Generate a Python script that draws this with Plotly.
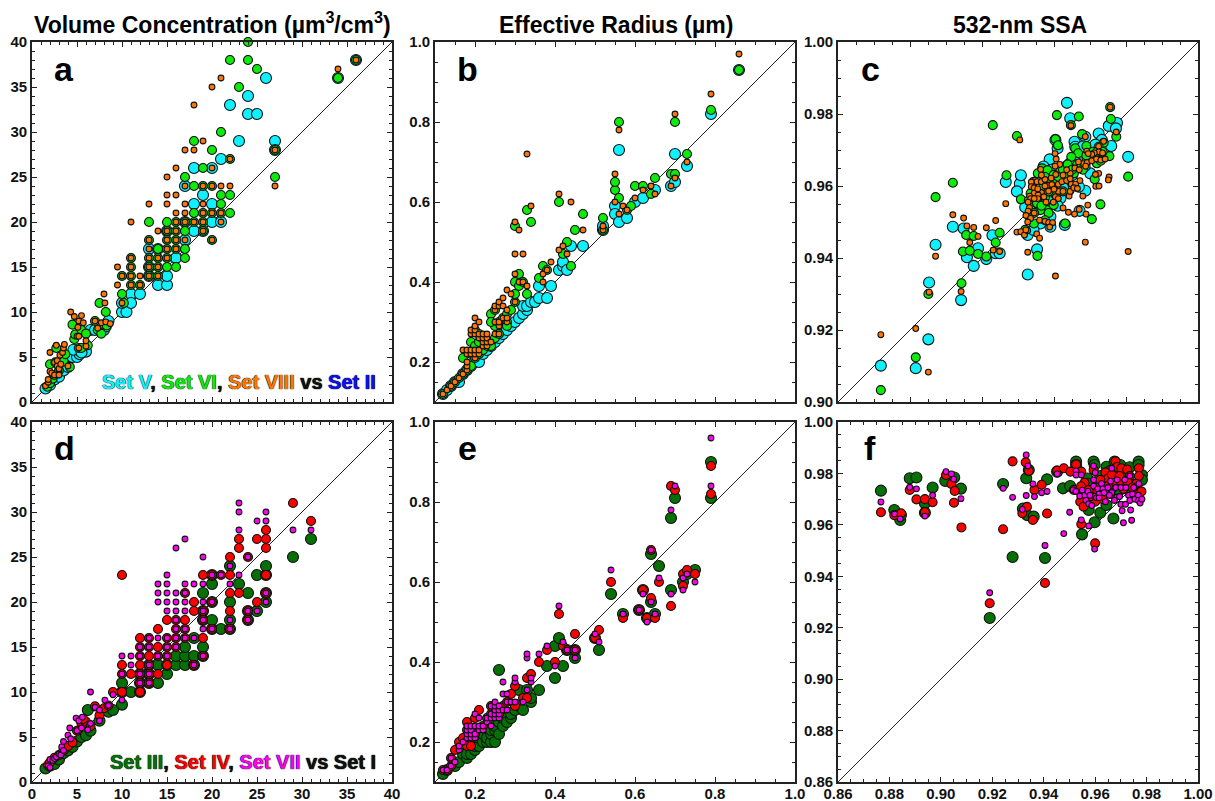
import plotly.graph_objects as go

# ---- panel a (Set II on x) ----
A_V = [(1.5,1.5),(2,1.9),(2.5,2.5),(3,2.8),(3.5,3.5),(4,3.9),(4.5,5),(5,5),(5.3,5.3),(4.6,5.8),(6,5.6),(5.5,5.5),(6.5,8),(7,8),(8,8),(8.2,8.4),(8.5,9),(10,10),(10.5,10),(10,11),(11,12),(11,11),(12,12),(14,13),(15,13),(15,14),(13,14),(13,15),(13,17),(14,17),(16,16),(17,18),(15,19),(19,19),(18,19),(17,20),(20,20),(21,20),(18,22),(20,22),(17,24),(19,23),(18,26),(20,26),(21,27),(22,33),(23,29),(24,32),(25,32),(24,34),(26,36),(27,29),(27,28),(34,36),(36,38)]
A_VI = [(1.7,1.7),(2,2.1),(2.3,2.6),(2.5,3),(3,3.5),(2,4.2),(2.6,4.4),(3.5,4.5),(3.7,5.3),(4.2,3.9),(2.7,6),(4.5,8.6),(4.7,7),(4.8,7.5),(5.2,6),(5.5,8),(5.5,6),(6,7.6),(6.2,6.3),(7,9),(7.3,8),(7.7,7.6),(8,8.6),(8.3,8.5),(8.2,10),(7.5,11),(10,12),(10,14),(10.2,11),(11,13),(11,14),(11,16),(11,15),(12,13),(13,16),(13,18),(13,20),(13,14),(13,15),(14,14),(14,15),(14,16),(14,17),(15,15),(15,16),(15,17),(15,18),(15,19),(15,20),(16,15),(16,17),(16,18),(16,19),(16,20),(17,16),(17,17),(17,19),(17,20),(17,25),(18,20),(18,21),(18,24),(18,29),(19,19),(19,20),(19,21),(19,24),(19,26),(20,18),(20,21),(20,24),(20,28),(21,21),(21,22),(21,23),(21,30),(22,21),(22,23),(22,27),(22,38),(23,35),(24,38),(24,40),(25,37),(27,25),(27,28),(34,36),(36,38)]
A_VIII = [(1.5,1.8),(1.8,2.2),(1.8,2.5),(2,3.4),(2.2,3.2),(2.5,3),(2.5,4.4),(2.8,4),(2.8,4.6),(3,3.5),(3,3.7),(3.1,5.2),(2,5.5),(2.7,6.3),(3,3),(3.2,4.2),(3.4,5.5),(3.5,6.0),(3.6,6.4),(4,4),(4.3,10),(4.7,9.5),(5,7.3),(5.2,7.3),(5.1,8.3),(5.2,9),(5.5,9.6),(5.7,8.8),(5.2,6),(6,6.2),(6,6.8),(7,9),(7.3,8.2),(7.7,8.8),(8,12),(8.2,8.9),(8.7,8.7),(8.1,11),(9.5,15),(9.5,13),(10,14),(10,11),(12,13),(11,13),(11,14),(11,15),(11,16),(12,14),(11,20),(13,14),(13,15),(13,16),(13,17),(13,18),(13,22),(14,14),(14,15),(14,16),(14,19),(15,16),(15,17),(15,18),(15,19),(15,22),(15,23),(15,25),(16,17),(16,18),(16,19),(16,20),(16,21),(16,23),(16,26),(17,18),(17,20),(17,21),(17,22),(17,24),(17,28),(18,20),(18,28),(18,33),(19,19),(19,20),(19,21),(19,22),(19,24),(19,29),(20,18),(20,21),(20,24),(20,26),(20,35),(21,20),(21,21),(21,24),(21,36),(22,24),(22,27),(27,24),(27,28),(34,37),(36,38)]

# ---- panel b ----
B_V = [(.12,.12),(.13,.13),(.14,.14),(.15,.15),(.16,.15),(.17,.17),(.18,.18),(.19,.19),(.2,.2),(.21,.2),(.22,.22),(.23,.23),(.24,.24),(.25,.25),(.26,.26),(.27,.27),(.28,.28),(.29,.29),(.3,.3),(.31,.31),(.32,.32),(.33,.33),(.32,.34),(.33,.34),(.34,.35),(.35,.35),(.36,.36),(.38,.36),(.36,.39),(.39,.39),(.41,.43),(.42,.44),(.42,.45),(.43,.43),(.44,.49),(.47,.49),(.52,.53),(.52,.54),(.55,.59),(.55,.57),(.56,.55),(.58,.56),(.56,.73),(.6,.6),(.62,.61),(.65,.63),(.69,.64),(.7,.65),(.7,.72),(.73,.69),(.79,.82),(.86,.93)]
B_VI = [(.12,.12),(.14,.14),(.15,.15),(.16,.16),(.17,.17),(.18,.18),(.17,.21),(.19,.19),(.19,.22),(.2,.21),(.19,.25),(.21,.22),(.2,.24),(.22,.23),(.21,.25),(.23,.24),(.22,.26),(.2,.28),(.21,.27),(.24,.25),(.25,.29),(.25,.26),(.24,.24),(.26,.27),(.24,.32),(.25,.33),(.24,.3),(.26,.3),(.27,.31),(.28,.3),(.28,.32),(.28,.29),(.29,.33),(.3,.35),(.3,.37),(.3,.4),(.31,.39),(.31,.42),(.32,.4),(.33,.37),(.33,.58),(.34,.55),(.3,.54),(.36,.41),(.37,.44),(.38,.43),(.42,.47),(.43,.5),(.41,.6),(.44,.44),(.45,.53),(.47,.57),(.52,.56),(.52,.53),(.55,.63),(.55,.65),(.56,.61),(.56,.8),(.58,.58),(.59,.59),(.6,.64),(.62,.64),(.64,.62),(.65,.66),(.69,.67),(.7,.67),(.7,.8),(.73,.72),(.79,.83),(.86,.93)]
B_VIII = [(.12,.12),(.13,.13),(.14,.14),(.15,.15),(.16,.16),(.17,.17),(.18,.18),(.18,.19),(.18,.2),(.17,.23),(.18,.22),(.18,.23),(.19,.22),(.19,.23),(.2,.21),(.2,.22),(.2,.23),(.21,.22),(.21,.23),(.19,.27),(.19,.28),(.2,.27),(.2,.28),(.2,.29),(.2,.31),(.21,.26),(.21,.27),(.21,.3),(.22,.24),(.22,.25),(.22,.26),(.22,.27),(.23,.24),(.23,.25),(.23,.26),(.23,.27),(.24,.25),(.25,.27),(.25,.3),(.25,.33),(.25,.34),(.26,.27),(.26,.29),(.26,.3),(.26,.34),(.26,.35),(.27,.31),(.27,.34),(.27,.36),(.28,.3),(.28,.31),(.28,.33),(.28,.38),(.29,.37),(.3,.35),(.3,.42),(.3,.47),(.31,.4),(.32,.4),(.32,.47),(.33,.39),(.33,.72),(.34,.59),(.31,.53),(.3,.55),(.37,.4),(.37,.42),(.38,.43),(.39,.45),(.41,.48),(.41,.62),(.42,.49),(.43,.47),(.44,.6),(.47,.53),(.52,.53),(.52,.54),(.55,.6),(.55,.67),(.56,.57),(.56,.78),(.57,.59),(.58,.58),(.6,.61),(.62,.63),(.64,.64),(.65,.62),(.69,.64),(.7,.66),(.7,.82),(.73,.7),(.79,.87),(.86,.97)]

# ---- panel c ----
C_V = [(.9119,.9101),(.9216,.9094),(.9251,.9174),(.9253,.9332),(.9271,.9437),(.9319,.9487),(.9349,.9482),(.9342,.9283),(.9358,.9402),(.9377,.9378),(.9389,.9427),(.9412,.9397),(.9438,.9413),(.9449,.9413),(.9429,.9463),(.9466,.9611),(.9505,.9606),(.9508,.963),(.9497,.9585),(.9527,.9354),(.9553,.9424),(.9527,.9464),(.952,.9541),(.9636,.9831),(.9645,.9788),(.9604,.9728),(.961,.9705),(.9588,.9674),(.9571,.9654),(.9657,.9723),(.9659,.9709),(.9687,.9737),(.9724,.9746),(.9733,.9728),(.9759,.9711),(.9752,.9767),(.9775,.9775),(.9772,.976),(.9806,.9681),(.963,.9492),(.9671,.9531),(.9687,.9587),(.9669,.9598),(.9641,.9589),(.9618,.9566),(.959,.9515),(.959,.9487),(.9562,.9496),(.9543,.9478),(.9701,.9635),(.9645,.9663),(.9678,.9663),(.9719,.9681),(.9555,.9552),(.9575,.9615),(.9605,.9625),(.965,.963),(.9685,.9655),(.973,.9695),(.961,.9545),(.9565,.9565),(.959,.9555),(.9625,.9595),(.9655,.9675),(.97,.97),(.968,.971),(.9715,.9715),(.9635,.9655),(.9595,.9645)]
C_VI = [(.9119,.9033),(.9216,.9124),(.9251,.93),(.9343,.933),(.9271,.9569),(.9319,.9609),(.9356,.9464),(.9377,.9461),(.9347,.9418),(.9366,.942),(.9389,.9411),(.9412,.9404),(.9438,.9443),(.9449,.947),(.943,.9769),(.9468,.963),(.9497,.9739),(.9508,.9563),(.953,.956),(.9554,.9406),(.9608,.9797),(.9669,.9793),(.9647,.9769),(.9756,.9819),(.9758,.9786),(.9773,.9737),(.9806,.9626),(.9754,.9683),(.9729,.9549),(.9705,.9508),(.9713,.9619),(.9631,.9496),(.9604,.973),(.9611,.9713),(.9678,.9744),(.969,.9711),(.9659,.9705),(.9667,.9691),(.9738,.972),(.9724,.9709),(.9719,.9663),(.9701,.9677),(.9648,.9681),(.9567,.9649),(.9582,.9644),(.9618,.9643),(.9599,.9631),(.9636,.9631),(.9544,.9612),(.9571,.9598),(.9605,.9575),(.9581,.9533),(.9562,.9533),(.9553,.9552),(.9599,.9547),(.9544,.9496),(.952,.9478),(.9625,.9585),(.9655,.9635),(.969,.9668),(.9575,.9568),(.9535,.958),(.9555,.9635),(.9575,.9625),(.9592,.9612),(.9612,.9625),(.9625,.9645),(.9638,.966),(.965,.9645),(.9665,.966),(.968,.9645),(.969,.9685),(.9708,.9695),(.972,.9695),(.9735,.9695),(.973,.967),(.9585,.9585),(.9565,.9545),(.9545,.9525),(.9562,.9575),(.9585,.9525),(.96,.9605),(.9575,.9505)]
C_VIII = [(.9119,.9187),(.9216,.9204),(.9251,.9083),(.9253,.9305),(.9271,.9405),(.9319,.952),(.9349,.9511),(.9342,.9307),(.9358,.9489),(.9366,.9443),(.9377,.9485),(.9389,.946),(.9412,.9484),(.9438,.9504),(.9431,.9422),(.9449,.9418),(.9466,.9551),(.9497,.9472),(.9508,.9473),(.9505,.9728),(.9518,.9464),(.9527,.9476),(.9527,.9416),(.9552,.9467),(.956,.9455),(.9604,.935),(.9687,.9444),(.9806,.9418),(.9647,.9768),(.9756,.9819),(.9773,.975),(.9687,.9737),(.9738,.9724),(.9724,.971),(.9603,.969),(.9606,.9675),(.9616,.966),(.9691,.9697),(.9725,.9695),(.9753,.9625),(.9751,.9617),(.9716,.9599),(.9725,.96),(.9724,.9635),(.9715,.9632),(.9694,.9547),(.9689,.9522),(.967,.9535),(.9657,.9522),(.9625,.9539),(.964,.9527),(.968,.9572),(.9603,.9655),(.9563,.9646),(.9547,.9616),(.9537,.9611),(.9537,.9598),(.9545,.9595),(.9553,.9612),(.9565,.9612),(.9575,.9618),(.9583,.9602),(.9594,.9604),(.9612,.9605),(.9622,.9612),(.9635,.9615),(.9648,.9605),(.966,.9605),(.9672,.9615),(.9645,.9635),(.9635,.9645),(.9658,.965),(.967,.9645),(.9682,.9662),(.9692,.9665),(.9705,.967),(.9718,.9675),(.973,.9672),(.9742,.9675),(.9712,.9692),(.9705,.9688),(.9735,.9692),(.9695,.969),(.9668,.9667),(.9688,.9655),(.9612,.9585),(.96,.9591),(.9585,.9586),(.9565,.9582),(.9545,.958),(.9532,.9572),(.9556,.9575),(.9535,.9565),(.9555,.9565),(.9572,.957),(.9604,.957),(.9612,.9565),(.9528,.9555),(.9545,.9565),(.9578,.9555),(.9598,.9555),(.9532,.954),(.9545,.9525),(.9528,.953),(.9522,.9518),(.9535,.951),(.956,.9505),(.9575,.9502),(.9585,.9498),(.9596,.9498),(.9588,.9486),(.9527,.95),(.9522,.9478),(.9625,.9585),(.9642,.9572),(.9645,.9585),(.9655,.9595),(.9665,.9593),(.9575,.96),(.9555,.9592),(.9592,.9622),(.9605,.9632),(.9625,.963),(.9645,.962),(.9565,.963)]

# ---- panel d (Set I on x) ----
D_III = [(1.5,1.5),(2,1.8),(2.5,2),(3,2.5),(3.5,3.2),(4,3.5),(4.5,3.9),(5,4.5),(5.5,5),(6,5.2),(6.5,5.7),(6.2,8),(7.5,6.8),(8.5,7.8),(9,8),(10,8.6),(10,10),(10,11),(11,10),(12,10),(12,11),(12,12),(13,11),(13,12),(13,13),(14,11),(14,13),(15,12),(15,13),(16,13),(16,14),(17,13),(17,14),(17,15),(18,13),(18,14),(18,16),(19,14),(19,15),(19,18),(19,19),(19,21),(20,17),(20,18),(20,20),(20,22),(20,23),(21,17),(22,17),(22,18),(22,20),(22,24),(23,22),(24,18),(24,19),(24,21),(25,19),(25,23),(26,20),(26,21),(26,23),(26,24),(29,25),(31,27)]
D_IV = [(1.8,1.9),(2,2.2),(2.5,2.7),(3,3),(3.5,3.5),(4,4),(4.5,4.4),(5,5.7),(5.5,6.5),(6,6.7),(6.5,6.2),(5.7,7),(7,8.4),(7.5,7.4),(8,8.2),(8.5,8.5),(9,10),(10,13),(10,12),(10,10),(10,23),(11,12),(12,10),(12,11),(12,12),(12,13),(12,14),(12,15),(12,16),(13,11),(13,12),(13,13),(13,14),(13,15),(13,16),(14,12),(14,14),(14,15),(14,17),(15,13),(15,14),(15,15),(15,16),(15,18),(16,15),(16,16),(16,17),(16,18),(17,16),(17,17),(17,18),(17,21),(18,13),(18,19),(18,20),(19,14),(19,16),(19,18),(19,19),(19,23),(20,17),(20,20),(20,23),(21,23),(22,17),(22,19),(22,21),(22,23),(22,25),(23,21),(23,26),(23,27),(24,18),(24,19),(24,25),(25,20),(25,27),(26,21),(26,23),(26,26),(26,27),(26,28),(29,31),(31,29)]
D_VII = [(1.8,1.8),(2,2.5),(2,1.6),(2.3,2.4),(2.5,2.6),(2.7,2.8),(3,3.1),(3.2,3),(3.3,3.9),(3.5,4.5),(3.5,3.5),(4,5.2),(4.2,6),(4.3,4.8),(4.9,7.1),(5,5.7),(5.2,6.8),(5.5,6),(5.6,7.2),(6.2,5.8),(6.5,10),(6.5,6.5),(7,8.3),(7.5,8),(7.5,6.8),(8.1,9.1),(8.5,8.5),(9,9.7),(10,9.1),(10,12),(10,14),(11,13),(11,14),(12,11),(12,12),(12,14),(12,15),(13,11),(13,12),(13,13),(13,15),(13,16),(14,14),(14,16),(14,20),(14,21),(14,22),(15,14),(15,15),(15,16),(15,19),(15,20),(15,21),(15,22),(15,23),(16,15),(16,16),(16,17),(16,18),(16,19),(16,20),(16,21),(16,26),(17,16),(17,17),(17,19),(17,20),(17,21),(17,22),(17,27),(18,13),(18,16),(18,22),(19,14),(19,17),(19,18),(19,19),(19,20),(19,22),(19,25),(20,17),(20,20),(20,23),(21,23),(22,17),(22,18),(22,22),(22,24),(23,23),(23,28),(23,30),(23,31),(24,18),(24,19),(24,25),(25,19),(25,29),(26,20),(26,21),(26,29),(26,30),(29,28),(31,28)]

# ---- panel e ----
E_III = [(.12,.12),(.13,.13),(.15,.14),(.16,.15),(.17,.17),(.18,.16),(.18,.17),(.19,.17),(.2,.18),(.2,.19),(.21,.19),(.21,.21),(.22,.2),(.22,.22),(.23,.2),(.23,.21),(.24,.2),(.24,.22),(.25,.2),(.24,.23),(.25,.23),(.25,.24),(.26,.22),(.26,.25),(.27,.24),(.27,.26),(.28,.26),(.28,.25),(.29,.26),(.29,.27),(.3,.28),(.31,.29),(.32,.28),(.31,.33),(.34,.3),(.34,.31),(.26,.38),(.33,.33),(.36,.33),(.38,.39),(.4,.36),(.4,.44),(.42,.39),(.41,.46),(.45,.41),(.43,.43),(.45,.43),(.5,.46),(.51,.43),(.54,.57),(.57,.52),(.61,.53),(.62,.58),(.63,.51),(.64,.55),(.64,.67),(.65,.52),(.66,.64),(.69,.58),(.69,.76),(.7,.81),(.72,.6),(.73,.62),(.75,.63),(.79,.81),(.79,.9)]
E_IV = [(.12,.13),(.13,.13),(.14,.14),(.14,.16),(.15,.18),(.16,.2),(.17,.21),(.18,.19),(.18,.23),(.18,.25),(.19,.19),(.2,.22),(.2,.26),(.21,.28),(.22,.24),(.23,.26),(.24,.27),(.24,.29),(.25,.29),(.26,.27),(.27,.29),(.28,.3),(.29,.32),(.3,.29),(.3,.34),(.32,.31),(.33,.31),(.33,.36),(.34,.37),(.36,.4),(.38,.43),(.4,.4),(.41,.52),(.42,.44),(.43,.43),(.45,.43),(.45,.47),(.5,.46),(.51,.48),(.54,.6),(.57,.51),(.61,.53),(.62,.58),(.63,.51),(.64,.56),(.64,.68),(.65,.51),(.66,.6),(.69,.54),(.69,.84),(.7,.83),(.72,.62),(.72,.59),(.73,.63),(.75,.62),(.79,.82),(.79,.89)]
E_VII = [(.12,.13),(.13,.13),(.14,.14),(.14,.16),(.15,.15),(.16,.18),(.16,.19),(.17,.2),(.18,.21),(.18,.22),(.18,.23),(.18,.24),(.19,.21),(.19,.22),(.19,.23),(.19,.24),(.2,.21),(.2,.22),(.2,.24),(.2,.27),(.21,.23),(.21,.24),(.21,.26),(.22,.23),(.22,.24),(.23,.25),(.23,.26),(.24,.24),(.24,.26),(.24,.27),(.24,.29),(.25,.26),(.25,.27),(.25,.28),(.25,.29),(.25,.3),(.26,.26),(.26,.27),(.26,.28),(.26,.29),(.27,.28),(.27,.32),(.27,.35),(.28,.28),(.28,.3),(.28,.32),(.29,.3),(.3,.3),(.3,.35),(.3,.36),(.32,.3),(.33,.33),(.33,.41),(.33,.42),(.34,.35),(.34,.36),(.36,.42),(.38,.44),(.4,.39),(.41,.54),(.42,.45),(.43,.43),(.45,.41),(.45,.43),(.5,.47),(.51,.45),(.54,.63),(.57,.52),(.61,.53),(.62,.57),(.63,.5),(.64,.55),(.64,.68),(.65,.52),(.66,.61),(.69,.57),(.69,.78),(.7,.84),(.72,.61),(.72,.58),(.73,.62),(.75,.6),(.79,.84),(.79,.96)]

# ---- panel f ----
F_III = [(.8767,.9733),(.8819,.9658),(.8842,.9619),(.8845,.9638),(.8879,.9781),(.8905,.9784),(.8938,.9684),(.8938,.9647),(.8968,.9745),(.9017,.9771),(.9052,.9784),(.9078,.9741),(.919,.9238),(.9242,.9759),(.9279,.9475),(.9319,.9663),(.9332,.9781),(.9342,.9813),(.9335,.9638),(.9361,.9632),(.9405,.9471),(.9413,.9777),(.9452,.9807),(.9475,.9742),(.9503,.9751),(.9526,.9846),(.9526,.9833),(.9549,.9563),(.9575,.9658),(.9598,.961),(.9594,.9846),(.9598,.9833),(.962,.9647),(.9644,.9826),(.9644,.9677),(.9671,.9625),(.9676,.9846),(.9698,.9833),(.9734,.9824),(.9769,.9846),(.9769,.9833),(.9782,.9794),(.9782,.9775),(.957,.978),(.962,.977),(.966,.981),(.971,.98),(.976,.975),(.9735,.976),(.965,.976),(.962,.979),(.957,.976),(.969,.973),(.9725,.974),(.966,.974),(.961,.971),(.956,.972)]
F_IV = [(.8767,.9649),(.8819,.9638),(.8845,.9645),(.8879,.9736),(.8905,.9699),(.8938,.97),(.8938,.9649),(.8968,.9688),(.902,.9794),(.9041,.9759),(.9054,.9732),(.9051,.9686),(.908,.959),(.919,.9295),(.9242,.9583),(.9279,.9847),(.933,.9843),(.9342,.981),(.9335,.967),(.9317,.9645),(.9358,.9619),(.9364,.9736),(.9392,.9756),(.9413,.9644),(.9405,.9374),(.9452,.9811),(.9478,.982),(.9504,.9807),(.9517,.9736),(.9526,.9835),(.9546,.9807),(.9546,.9603),(.9542,.969),(.9555,.9671),(.9559,.9764),(.9545,.975),(.96,.9528),(.9594,.9813),(.964,.9804),(.9605,.9735),(.962,.9755),(.965,.978),(.9679,.9847),(.9685,.9825),(.9702,.982),(.9725,.9815),(.9735,.979),(.977,.982),(.977,.979),(.976,.976),(.978,.973),(.975,.972),(.971,.974),(.968,.9755),(.966,.972),(.963,.97),(.96,.969),(.958,.971),(.97,.977),(.965,.975),(.9725,.977),(.962,.9775),(.9665,.9795),(.9695,.979),(.9745,.9745),(.9635,.973),(.9575,.9735)]
F_VII = [(.8767,.9689),(.882,.9642),(.8842,.9623),(.8879,.9746),(.8905,.974),(.8938,.9634),(.8968,.9715),(.902,.9807),(.9041,.9798),(.905,.9778),(.9078,.9702),(.919,.9336),(.9242,.9742),(.9279,.9707),(.9317,.966),(.9332,.9872),(.9339,.9829),(.9332,.9714),(.9358,.9759),(.9364,.971),(.9392,.9725),(.9413,.973),(.9405,.952),(.9452,.9798),(.9478,.9566),(.9501,.9649),(.9514,.9736),(.9526,.981),(.9526,.9794),(.9546,.9794),(.9546,.9619),(.9575,.9596),(.9598,.9506),(.9594,.9829),(.96,.9803),(.9594,.9775),(.9594,.9751),(.9594,.9712),(.9525,.973),(.954,.9712),(.955,.9735),(.956,.9715),(.9565,.9695),(.9572,.973),(.958,.9715),(.9575,.9682),(.9587,.9675),(.961,.974),(.9615,.972),(.9605,.9705),(.9625,.976),(.963,.974),(.964,.969),(.965,.9745),(.966,.977),(.9665,.9725),(.9665,.982),(.968,.9745),(.9685,.9775),(.9685,.9708),(.97,.9745),(.97,.968),(.9705,.9655),(.971,.9608),(.9715,.9775),(.972,.9745),(.9718,.968),(.973,.9715),(.9735,.9695),(.9738,.9658),(.9742,.9618),(.9735,.979),(.9745,.972),(.9755,.97),(.9768,.9715),(.9768,.9695),(.977,.976),(.9775,.9685),(.9782,.97),(.9675,.9695),(.9695,.971),(.9655,.9715),(.9635,.9725),(.9615,.9705),(.975,.9745)]

TITLES = ["Volume Concentration (µm<sup>3</sup>/cm<sup>3</sup>)", "Effective Radius (µm)", "532-nm SSA"]
LETTERS = ["a", "b", "c", "d", "e", "f"]
TOP_COLORS = ["#10F0FF", "#0CEB0C", "#FF7700"]
BOT_COLORS = ["#067006", "#FF0000", "#FF00F0"]
SIZES = [11, 9, 5.8]
RANGES = [(0, 40), (.1, 1.0), (.90, 1.00), (0, 40), (.1, 1.0), (.86, 1.00)]
MAJOR = [5, .2, .02, 5, .2, .02]
MINOR = [1, .05, .005, 1, .05, .005]
FORMATS = ["d", ".1f", ".2f", "d", ".1f", ".2f"]
SERIES = [(A_V, A_VI, A_VIII), (B_V, B_VI, B_VIII), (C_V, C_VI, C_VIII),
          (D_III, D_IV, D_VII), (E_III, E_IV, E_VII), (F_III, F_IV, F_VII)]
NAMES = [("Set V", "Set VI", "Set VIII"), ("Set V", "Set VI", "Set VIII"), ("Set V", "Set VI", "Set VIII"),
         ("Set III", "Set IV", "Set VII"), ("Set III", "Set IV", "Set VII"), ("Set III", "Set IV", "Set VII")]

W, H = 1215, 801
LEFTS = [32, 435, 838]
TOPS = [42, 422]
PW = 360

FONT = "Liberation Sans, Arial, sans-serif"
fig = go.Figure()
layout = dict(width=W, height=H, margin=dict(l=0, r=0, t=0, b=0, autoexpand=False), showlegend=False,
              paper_bgcolor="white", plot_bgcolor="white", autosize=False)
ann = []
for i in range(6):
    col, row = i % 3, i // 3
    xa = f"x{i+1}" if i else "x"
    ya = f"y{i+1}" if i else "y"
    xk = f"xaxis{i+1}" if i else "xaxis"
    yk = f"yaxis{i+1}" if i else "yaxis"
    l, t = LEFTS[col], TOPS[row]
    lo, hi = RANGES[i]
    ax = dict(range=[lo, hi], tick0=0, dtick=MAJOR[i], ticks="inside", ticklen=5, tickwidth=1.3,
              tickcolor="#222", showline=True, linewidth=1.6, linecolor="#222", mirror="ticks",
              showgrid=False, zeroline=False, tickformat=FORMATS[i], automargin=False,
              minor=dict(dtick=MINOR[i], tick0=0, ticks="inside", ticklen=3, tickwidth=1, tickcolor="#222", showgrid=False),
              tickfont=dict(family=FONT, size=15, color="#111", weight="bold"))
    layout[xk] = dict(ax, domain=[l / W, (l + PW) / W], anchor=ya, showticklabels=row == 1, ticklabelstandoff=-3)
    layout[yk] = dict(ax, domain=[1 - (t + PW) / H, 1 - t / H], anchor=xa)
    fig.add_trace(go.Scatter(x=[lo, hi], y=[lo, hi], mode="lines", xaxis=xa, yaxis=ya, hoverinfo="skip",
                             line=dict(color="#222", width=1)))
    colors = TOP_COLORS if row == 0 else BOT_COLORS
    for pts, c, s, n in zip(SERIES[i], colors, SIZES, NAMES[i]):
        fig.add_trace(go.Scatter(x=[p[0] for p in pts], y=[p[1] for p in pts], mode="markers", name=n,
                                 xaxis=xa, yaxis=ya, cliponaxis=False,
                                 marker=dict(color=c, size=s, line=dict(color="#111", width=1.1))))
    ann.append(dict(text=LETTERS[i], xref="paper", yref="paper", x=(l + 32) / W,
                    y=1 - (t + (27 if row == 0 else 26)) / H,
                    xanchor="center", yanchor="middle", showarrow=False,
                    font=dict(family=FONT, size=34, color="#000", weight="bold")))

for col, title in enumerate(TITLES):
    cx = [212, 616, 1020][col]
    cy = [23, 25, 25][col]
    ann.append(dict(text=title, xref="paper", yref="paper", x=cx / W, y=1 - cy / H, xanchor="center", yanchor="middle",
                    showarrow=False, font=dict(family=FONT, size=23, color="#000", weight="bold")))

SHADOW = "0 0 1px #000, 0 0 1px #000"
def caption(parts, right, y):
    text = "".join(f'<span style="color:{c}">{t}</span>' for t, c in parts)
    return dict(text=text, xref="paper", yref="paper", x=right / W, y=1 - y / H, xanchor="right", yanchor="middle",
                showarrow=False, font=dict(family=FONT, size=20, color="#111", weight="bold", shadow=SHADOW))

ann.append(caption([("Set V", TOP_COLORS[0]), (", ", "#111"), ("Set VI", TOP_COLORS[1]), (", ", "#111"),
                    ("Set VIII", TOP_COLORS[2]), (" vs ", "#111"), ("Set II", "#1010EE")], 378, 382))
ann.append(caption([("Set III", BOT_COLORS[0]), (", ", "#111"), ("Set IV", BOT_COLORS[1]), (", ", "#111"),
                    ("Set VII", BOT_COLORS[2]), (" vs ", "#111"), ("Set I", "#111")], 378, 762))

fig.update_layout(**layout, annotations=ann)
fig.write_html("out.html", post_script="document.body.style.margin='0';", config={"displayModeBar": False})
